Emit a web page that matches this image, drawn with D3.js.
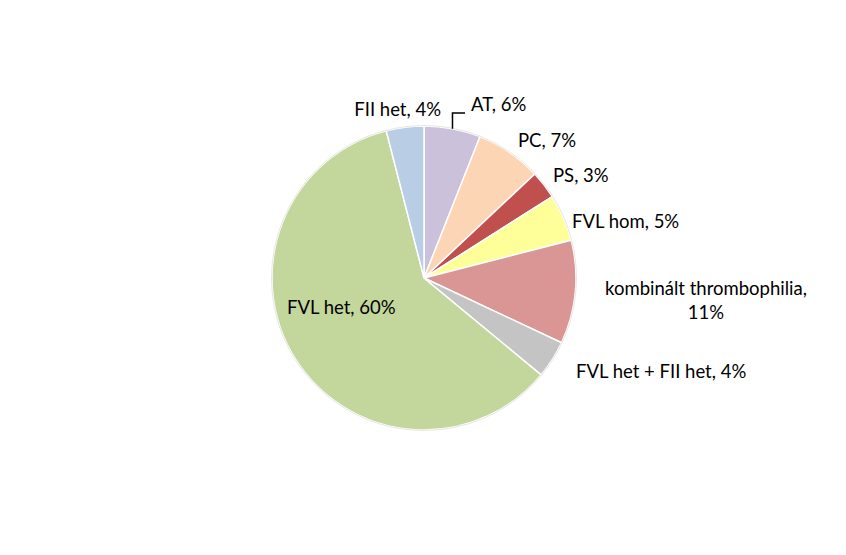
<!DOCTYPE html>
<html>
<head>
<meta charset="utf-8">
<script src="https://cdn.jsdelivr.net/npm/d3@7"></script>
<style>
  body { margin: 0; background: #fff; }
  text { font-family: Lato, "Open Sans", sans-serif; font-size: 18.5px; fill: #000; }
</style>
</head>
<body>
<svg id="chart" width="846" height="555"></svg>
<script>
// slices clockwise from 12 o'clock
var categories = ["AT", "PC", "PS", "FVL hom", "kombinált thrombophilia", "FVL het + FII het", "FVL het", "FII het"];
var values = [6, 7, 3, 5, 11, 4, 60, 4];
var valueLabels = ["6%", "7%", "3%", "5%", "11%", "4%", "60%", "4%"];
var colors = ["#ccc1da", "#fcd5b5", "#c0504d", "#ffff99", "#d99694", "#c4c4c4", "#c3d69b", "#b9cde5"];

// label placement relative to pie centre: [dx, dy baseline, anchor]
var labelPos = [
  [47, -167, "start"],
  [94, -131, "start"],
  [129, -96, "start"],
  [148, -50, "start"],
  [282, 17, "middle"],
  [152, 100, "start"],
  [-137, 36, "start"],
  [17, -162, "end"]
];

var svg = d3.select("#chart"),
    cx = 424, cy = 278, radius = 152;

var g = svg.append("g").attr("transform", "translate(" + cx + "," + cy + ")");

var pie = d3.pie().sort(null).value(function(d) { return d; });
var arc = d3.arc().innerRadius(0).outerRadius(radius);
var arcs = pie(values);

g.selectAll("path.slice")
  .data(arcs)
  .enter().append("path")
  .attr("class", "slice")
  .attr("d", arc)
  .attr("fill", function(d, i) { return colors[i]; })
  .attr("stroke", "#fff")
  .attr("stroke-width", 1.5);

// thin outer rim
g.append("circle").attr("r", radius + 0.5).attr("fill", "none").attr("stroke", "#e6e6e6").attr("stroke-width", 1);

var labels = g.selectAll("text.lbl")
  .data(arcs)
  .enter().append("text")
  .attr("class", "lbl")
  .attr("x", function(d, i) { return labelPos[i][0]; })
  .attr("y", function(d, i) { return labelPos[i][1]; })
  .attr("text-anchor", function(d, i) { return labelPos[i][2]; });

labels.each(function(d, i) {
  var t = d3.select(this);
  if (categories[i] == "kombinált thrombophilia") {
    t.append("tspan").attr("x", labelPos[i][0]).text(categories[i] + ",");
    t.append("tspan").attr("x", labelPos[i][0]).attr("dy", 24).text(valueLabels[i]);
  } else {
    t.text(categories[i] + ", " + valueLabels[i]);
  }
});

// leader line for AT
var atMid = (arcs[0].startAngle + arcs[0].endAngle) / 2;
var ex = Math.sin(atMid) * radius, ey = -Math.cos(atMid) * radius;
g.append("path")
  .attr("d", "M" + ex + "," + ey + "V" + (-165) + "H" + (labelPos[0][0] - 6))
  .attr("fill", "none")
  .attr("stroke", "#000")
  .attr("stroke-width", 1.5);
</script>
</body>
</html>
